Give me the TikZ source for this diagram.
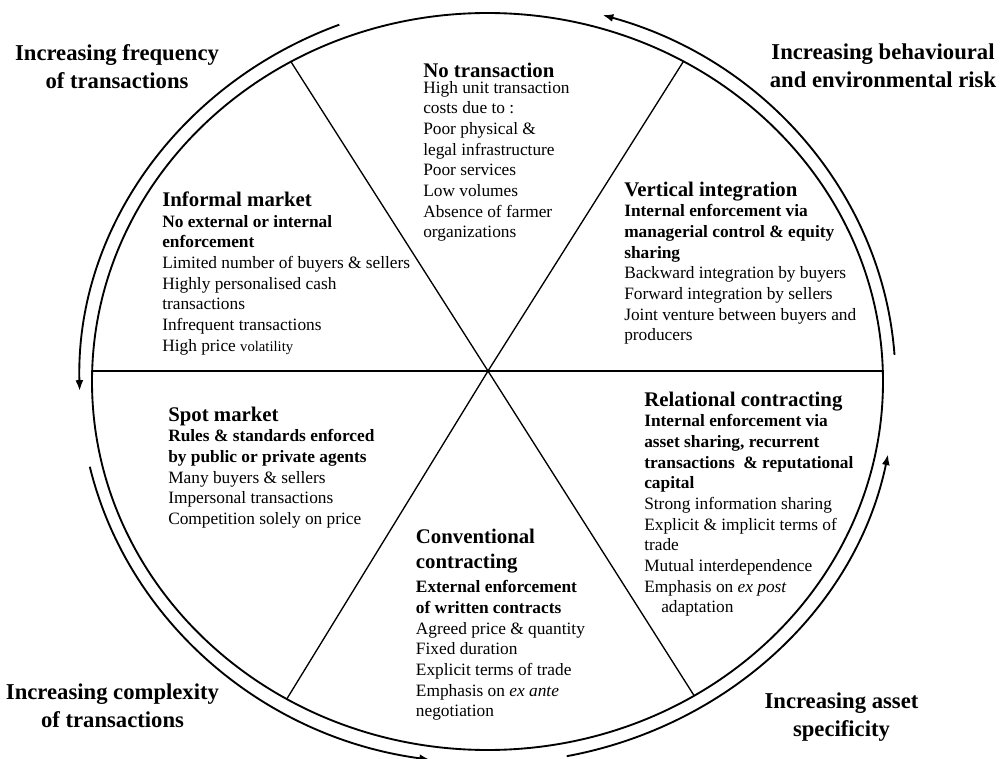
\documentclass[tikz,border=0pt]{standalone}
\usepackage{fontspec}
\setmainfont{Liberation Serif}
\usetikzlibrary{arrows.meta}

\begin{document}
\begin{tikzpicture}[x=0.75pt,y=-0.75pt,
    head/.style={anchor=base west,inner sep=0pt,font=\fontsize{15.6}{18.75}\selectfont\bfseries,align=left},
    body/.style={anchor=north west,inner sep=0pt,align=left,font=\fontsize{13}{15.5}\selectfont,execute at begin node=\strut},
    trend/.style={anchor=north,inner sep=0pt,align=center,font=\fontsize{17}{21}\selectfont\bfseries,execute at begin node=\strut},
    sweep/.style={line width=1.4pt,-{Latex[length=8pt,width=6pt]}}]
    \useasboundingbox (0,0) rectangle (1000,759);

    % wheel
    \coordinate (C) at (487.5,381.5);
    \coordinate (hub) at (488,371);
    \coordinate (rimW) at (92.2,371);
    \coordinate (rimE) at (882.8,371);
    \path (C) ++(-119.8:395.5 and 368.5) coordinate (rimNW);
    \path (C) ++(-60.3:395.5 and 368.5) coordinate (rimNE);
    \path (C) ++(-239.5:395.5 and 368.5) coordinate (rimSW);
    \path (C) ++(-301.5:395.5 and 368.5) coordinate (rimSE);
    \draw[line width=1.4pt] (C) ellipse [x radius=395.5, y radius=368.5];
    \draw[line width=1pt] (rimNW) -- (hub) -- (rimSE);
    \draw[line width=1pt] (rimNE) -- (hub) -- (rimSW);
    \draw[line width=1pt] (rimW) -- (hub) -- (rimE);

    % outer arrows
    \path (C) ++(-111.3:408 and 383) coordinate (tlS);
    \path (C) ++(-4:408 and 382) coordinate (trS);
    \path (C) ++(-192.9:408 and 382) coordinate (blS);
    \path (C) ++(-281.2:408 and 382) coordinate (brS);
    \draw[sweep] (tlS) arc[start angle=-111.3, end angle=-181.4, x radius=408, y radius=383];
    \draw[sweep] (trS) arc[start angle=-4, end angle=-73.6, x radius=408, y radius=382];
    \draw[sweep] (blS) arc[start angle=-192.9, end angle=-261.9, x radius=408, y radius=382];
    \draw[sweep] (brS) arc[start angle=-281.2, end angle=-349, x radius=408, y radius=382];

    \node[trend] (freq) at (117,44.4) {Increasing frequency\\of transactions};
    \node[trend] (risk) at (883,43.7) {Increasing behavioural\\and environmental risk};
    \node[trend] (cplx) at (112.5,683.1) {Increasing complexity\\of transactions};
    \node[trend] (spec) at (841.5,692.1) {Increasing asset\\specificity};

    % segments
    \node[head] (noneH) at (423,77.8) {No transaction};
    \node[body] (noneB) at (423,81) {High unit transaction\\costs due to :\\Poor physical \&\\legal infrastructure\\Poor services\\Low volumes\\Absence of farmer\\organizations};

    \node[head] (infoH) at (162,207) {Informal market};
    \node[body] (infoB) at (162,214.8) {\textbf{No external or internal}\\\textbf{enforcement}\\Limited number of buyers \& sellers\\Highly personalised cash\\transactions\\Infrequent transactions\\High price {\fontsize{11}{15.5}\selectfont volatility}};

    \node[head] (vertH) at (624,196.7) {Vertical integration};
    \node[body] (vertB) at (624,204.5) {\textbf{Internal enforcement via}\\\textbf{managerial control \& equity}\\\textbf{sharing}\\Backward integration by buyers\\Forward integration by sellers\\Joint venture between buyers and\\producers};

    \node[head] (spotH) at (168,421.7) {Spot market};
    \node[body] (spotB) at (168,429.5) {\textbf{Rules \& standards enforced}\\\textbf{by public or private agents}\\Many buyers \& sellers\\Impersonal transactions\\Competition solely on price};

    \node[head,anchor=north west,execute at begin node=\strut] (convH) at (415.7,529.2) {Conventional\\contracting};
    \node[body] (convB) at (415.7,580.5) {\textbf{External enforcement}\\\textbf{of written contracts}\\Agreed price \& quantity\\Fixed duration\\Explicit terms of trade\\Emphasis on \textit{ex ante}\\negotiation};

    \node[head] (relH) at (644,406.7) {Relational contracting};
    \node[body] (relB) at (644,414.5) {\textbf{Internal enforcement via}\\\textbf{asset sharing, recurrent}\\\textbf{transactions~ \& reputational}\\\textbf{capital}\\Strong information sharing\\Explicit \& implicit terms of\\trade\\Mutual interdependence\\Emphasis on \textit{ex post}\\\hspace*{12.75pt}adaptation};
\end{tikzpicture}
\end{document}
